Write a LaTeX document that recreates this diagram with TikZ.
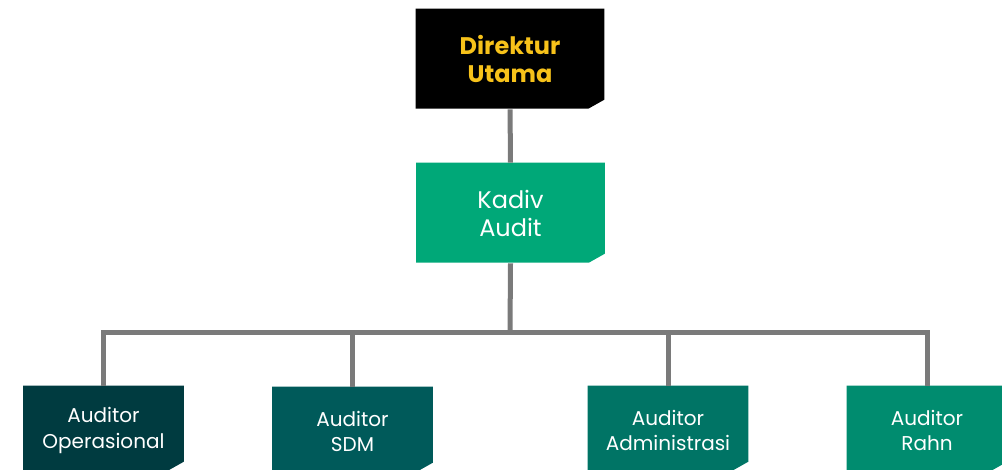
\documentclass[tikz,border=0pt]{standalone}
\usepackage{fontspec}
\setmainfont{Poppins}
\usetikzlibrary{backgrounds}

\definecolor{lineGray}{HTML}{7A7A7A}
\definecolor{dirGold}{HTML}{F7C21A}
\definecolor{kadivGreen}{HTML}{00A878}
\definecolor{opTeal}{HTML}{003B40}
\definecolor{sdmTeal}{HTML}{005A5A}
\definecolor{admTeal}{HTML}{007465}
\definecolor{rahnTeal}{HTML}{008C6F}

\begin{document}
\begin{tikzpicture}[x=0.75pt, y=-0.75pt,
  unit/.style={rectangle, inner sep=0pt, align=center, text=white},
  topbox/.style={unit, minimum width=141pt, minimum height=75pt,
    font=\fontsize{18}{21}\selectfont},
  subbox/.style={unit, minimum width=120pt, minimum height=66.75pt,
    font=\fontsize{15}{19}\selectfont},
  link/.style={draw=lineGray, line width=3.75pt}]
  \useasboundingbox (0,0) rectangle (1002,470);
  % boxes
  \node[topbox, text=dirGold, font=\fontsize{18}{21}\bfseries] (dir) at (510,59) {Direktur\\Utama};
  \node[topbox] (kadiv) at (510.5,213) {Kadiv\\Audit};
  \node[subbox] (op) at (103.5,430.5) {Auditor\\Operasional};
  \node[subbox] (sdm) at (352.5,431.5) {Auditor\\SDM};
  \node[subbox] (adm) at (668,430.5) {Auditor\\Administrasi};
  \node[subbox] (rahn) at (927,430.5) {Auditor\\Rahn};
  \coordinate (bar) at (510,332);
  % box fills, cut at the lower right corner
  \begin{scope}[on background layer]
    \foreach \n/\c/\h in {dir/black/100, kadiv/kadivGreen/100, op/opTeal/85, sdm/sdmTeal/85, adm/admTeal/85, rahn/rahnTeal/85}
      \fill[\c] (\n.north west) -- (\n.north east) -- ++(0,\h-9) -- ++(-16,9)
        -| (\n.north west) -- cycle;
  \end{scope}
  % connectors
  \draw[link] (dir) -- (kadiv);
  \draw[link] (kadiv.south) -- (bar);
  \draw[link] (op.north) |- (bar) -| (rahn.north);
  \draw[link] (sdm.north) -- (sdm.north |- bar);
  \draw[link] (adm.north) -- (adm.north |- bar);
\end{tikzpicture}
\end{document}
